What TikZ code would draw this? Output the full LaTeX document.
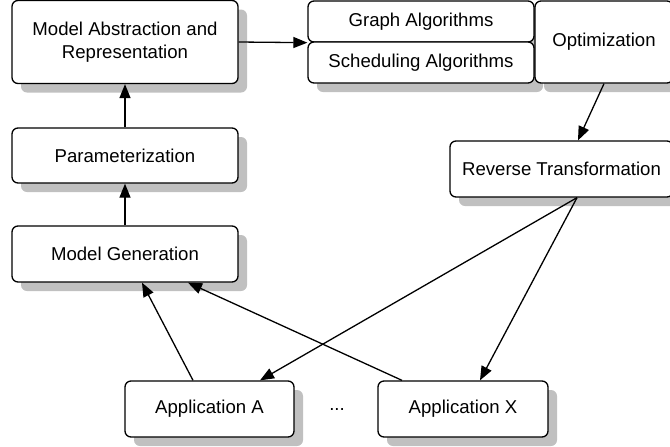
\documentclass[tikz,border=0pt]{standalone}
\usepackage{fontspec}
\setmainfont{Liberation Sans}
\usetikzlibrary{arrows.meta,shadows}
\definecolor{shadowgray}{RGB}{192,192,192}

\begin{document}
\begin{tikzpicture}[x=0.5pt,y=-0.5pt,
  procbox/.style={draw, line width=0.65pt, rounded corners=3pt, fill=white,
    align=center, inner sep=0pt, font=\fontsize{9.3}{11.5}\selectfont,
    drop shadow={shadow xshift=4.5pt, shadow yshift=-4.5pt, fill=shadowgray, opacity=1}},
  arr/.style={line width=0.65pt, -{Triangle[length=7pt,width=5.5pt]}}]
\useasboundingbox (0,0) rectangle (670,446);
\clip (0,0) rectangle (670,446);
% top row
\node[procbox, minimum width=113pt, minimum height=41.5pt] (abstr) at (125,42) {Model Abstraction and\\Representation};
\node[procbox, minimum width=113pt, minimum height=20.5pt] (graphalg) at (421,21.5) {Graph Algorithms};
\node[procbox, minimum width=113pt, minimum height=20.5pt] (schedalg) at (421,62.5) {Scheduling Algorithms};
\node[procbox, minimum width=69pt, minimum height=41pt] (optim) at (604,42) {Optimization};
% left column
\node[procbox, minimum width=113pt, minimum height=27.5pt] (param) at (125,155.5) {Parameterization};
\node[procbox, minimum width=113pt, minimum height=28pt] (modelgen) at (125,254) {Model Generation};
\node[procbox, minimum width=111.5pt, minimum height=28pt] (revtrans) at (561.5,169) {Reverse Transformation};
% applications
\node[procbox, minimum width=84.5pt, minimum height=28pt] (appa) at (209.5,409) {Application A};
\node[font=\fontsize{9.3}{11.5}\selectfont] (dots) at (337,409) {...};
\node[procbox, minimum width=85pt, minimum height=28pt] (appx) at (463,409) {Application X};
% connectors
\draw[arr] (abstr.east) -- (graphalg.south west);
\draw[arr] (param.north) -- (abstr.south);
\draw[arr] (modelgen.north) -- (param.south);
\draw[arr] (optim.south) -- ([xshift=8.25pt]revtrans.north);
\coordinate (rtout) at ([xshift=7.75pt]revtrans.south);
\draw[arr] (rtout) -- ([xshift=25.25pt]appa.north);
\draw[arr] (rtout) -- ([xshift=8.5pt]appx.north);
\draw[arr] ([xshift=-8.25pt]appa.north) -- ([xshift=8.5pt]modelgen.south);
\draw[arr] ([xshift=-30.5pt]appx.north) -- ([xshift=31.5pt]modelgen.south);
\end{tikzpicture}
\end{document}
